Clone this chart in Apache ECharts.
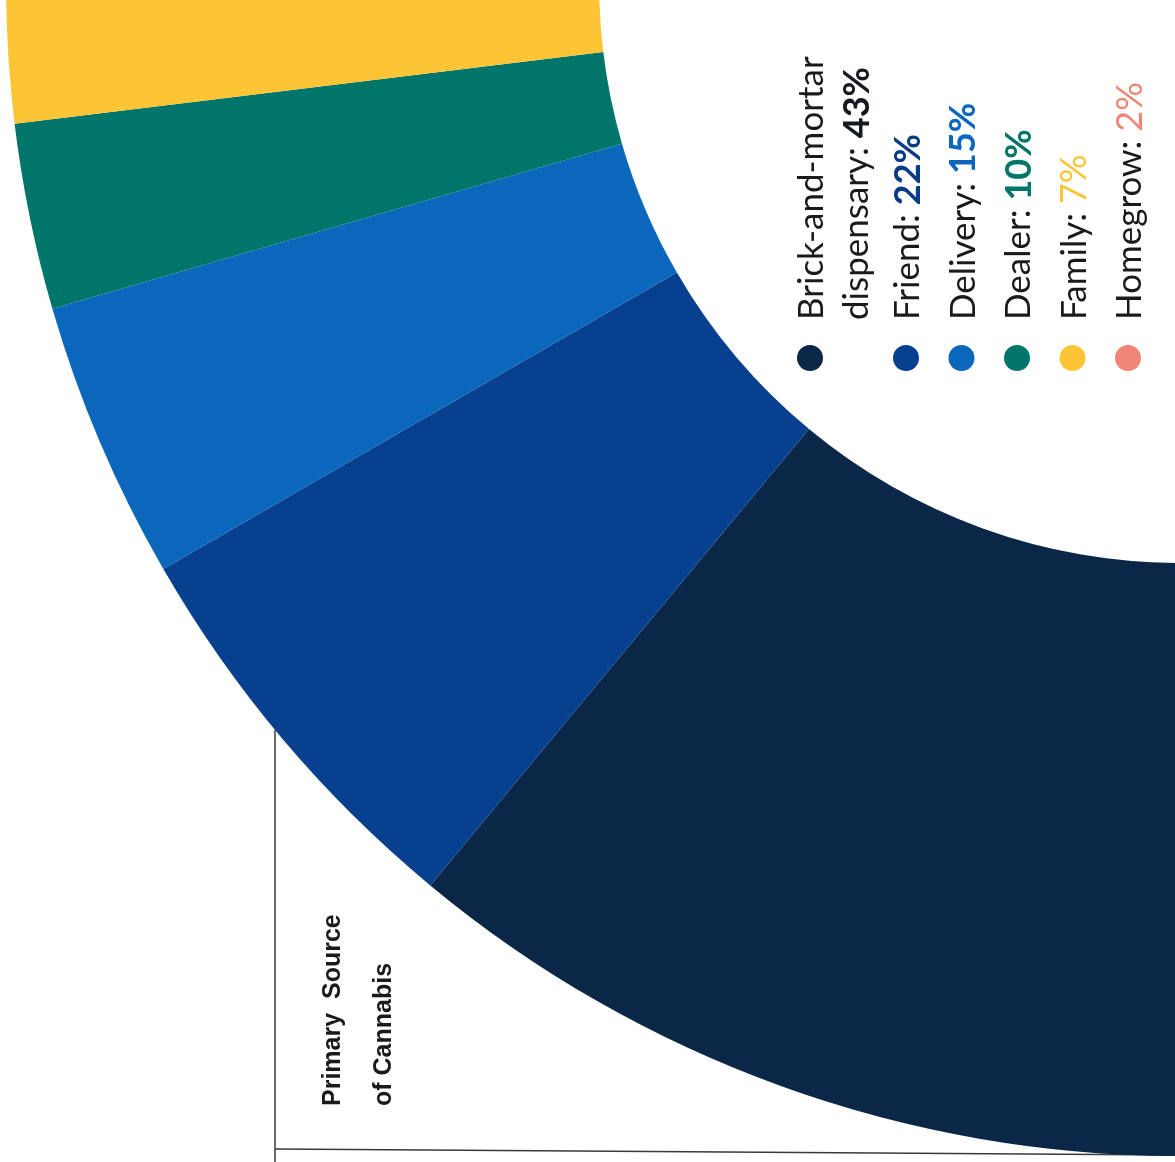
<!DOCTYPE html>
<html>
<head>
<meta charset="utf-8">
<title>Primary Source of Cannabis</title>
<script src="https://cdn.jsdelivr.net/npm/echarts@6/dist/echarts.min.js"></script>
<style>
  html, body { margin: 0; padding: 0; background: #ffffff; }
  #chart { width: 1175px; height: 1162px; }
</style>
</head>
<body>
<div id="chart"></div>
<script>
// shares in %
const sources = ["Brick-and-mortar dispensary", "Friend", "Delivery", "Dealer", "Family", "Homegrow"];
const shares = [43, 22, 15, 10, 7, 2];
// legend text as printed (first entry wraps onto two lines)
const legendLines = [["Brick-and-mortar", "dispensary: "], ["Friend: "], ["Delivery: "], ["Dealer: "], ["Family: "], ["Homegrow: "]];
const titleLines = ["Primary  Source", "of Cannabis"];

const sliceColors = ["#0b2747", "#07408f", "#0b67bb", "#00766a", "#fdc535", "#f08677"];
const valueColors = ["#161a20", "#0a3b86", "#0b67bb", "#00766a", "#fdc535", "#f08677"];
const valueBold = [true, true, true, true, false, false];

const chart = echarts.init(document.getElementById("chart"));

const total = shares.reduce((a, b) => a + b, 0);
const degPerPct = 0.923; // ring only covers roughly a quarter turn

// legend: dots + rotated labels, reading bottom to top
const legendGraphics = [];
let dotX = 810;
sources.forEach((name, i) => {
  if (i === 1) dotX = 906;
  else if (i > 1) dotX += 55.5;
  legendGraphics.push({
    type: "circle",
    shape: { cx: dotX, cy: 358, r: 13 },
    style: { fill: sliceColors[i] },
    z: 10,
  });
  const lines = legendLines[i];
  lines.forEach((txt, j) => {
    const isLast = j === lines.length - 1;
    legendGraphics.push({
      type: "text",
      x: dotX + 2 + j * 45,
      y: 320,
      rotation: Math.PI / 2,
      z: 10,
      style: {
        text: isLast ? "{n|" + txt + "}{v|" + shares[i] + "%}" : "{n|" + txt + "}",
        align: "left",
        verticalAlign: "middle",
        rich: {
          n: { fontFamily: "Lato", fontSize: 35, fontWeight: 400, fill: "#1a1a1a" },
          v: {
            fontFamily: "Lato",
            fontSize: 36,
            fontWeight: valueBold[i] ? 700 : 400,
            fill: valueColors[i],
          },
        },
      },
    });
  });
});

const titleStyle = {
  fontFamily: "Liberation Sans",
  fontWeight: 700,
  fontSize: 25,
  fill: "#1a1a1a",
  align: "left",
  verticalAlign: "middle",
};

const option = {
  backgroundColor: "#ffffff",
  animation: false,
  graphic: [
    // frame lines behind the ring
    {
      type: "line",
      shape: { x1: 275, y1: 730, x2: 275, y2: 1162 },
      style: { stroke: "#3a3a3a", lineWidth: 1.5 },
      z: 0,
    },
    {
      type: "line",
      shape: { x1: 275, y1: 1149, x2: 1175, y2: 1155 },
      style: { stroke: "#3a3a3a", lineWidth: 1.5 },
      z: 0,
    },
    {
      type: "text",
      x: 333,
      y: 1106,
      rotation: Math.PI / 2,
      z: 10,
      style: Object.assign({ text: titleLines[0] }, titleStyle),
    },
    {
      type: "text",
      x: 384,
      y: 1106,
      rotation: Math.PI / 2,
      z: 10,
      style: Object.assign({ text: titleLines[1] }, titleStyle),
    },
  ].concat(legendGraphics),
  series: [
    {
      type: "pie",
      center: [1180, -18],
      radius: [581, 1174],
      startAngle: 270,
      endAngle: 270 - total * degPerPct,
      clockwise: true,
      silent: true,
      z: 2,
      label: { show: false },
      labelLine: { show: false },
      itemStyle: { borderWidth: 0 },
      data: sources.map((name, i) => ({
        name: name,
        value: shares[i],
        itemStyle: { color: sliceColors[i] },
      })),
    },
  ],
};

chart.setOption(option);
</script>
</body>
</html>
